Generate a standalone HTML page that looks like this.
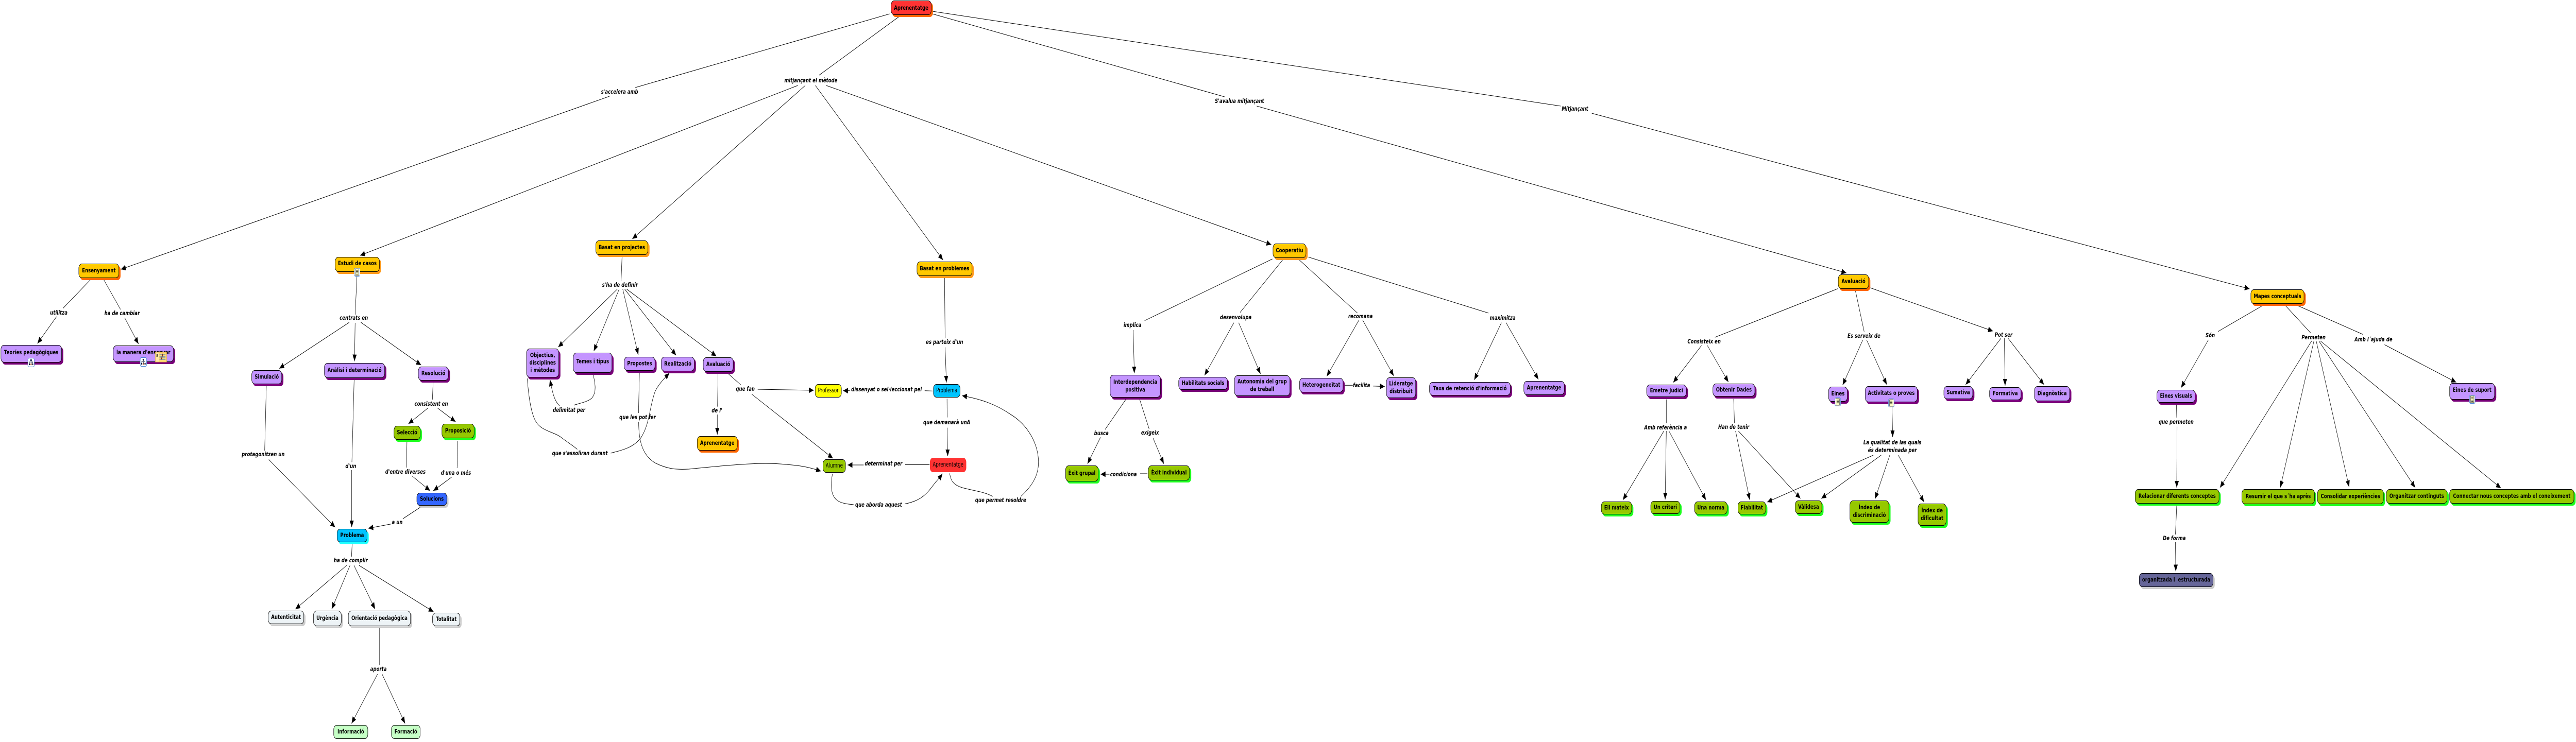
<!DOCTYPE html>
<html lang="ca"><head><meta charset="utf-8"><title>Aprenentatge</title>
<style>
html,body{margin:0;padding:0;width:100%;height:100%;overflow:hidden;background:#fff}
#r{position:absolute;left:0;top:0;width:100vw;height:100vh;display:block;background:#fff}
#r text{font-family:"DejaVu Sans","Liberation Sans",sans-serif;font-size:11.8px;font-weight:bold;text-anchor:middle;fill:#000;stroke:none;white-space:pre}
#r .l text,#r text.i{font-style:italic}
#r text.t{font-weight:normal;font-size:12px}
.f{stroke:#000;stroke-width:1}
.s{stroke:none}
.o .f{fill:#ffc800}.o .s{fill:#ff6600}
.y .f{fill:#ffc800}.y .s{fill:#ff9a1a}
.p .f{fill:#c495ff}.p .s{fill:#780078}
.g .f{fill:#96c800}.g .s{fill:#1eff1e}
.w .f{fill:#edf3f6}.w .s{fill:#ccc}
.b .f{fill:#00c3ff}.b .s{fill:#1effff}
.u .f{fill:#3366ff}.u .s{fill:#ccc}
.v .f{fill:#666699}.v .s{fill:#ccc}
.m .f{fill:#c6ffc6}.m .s{fill:none}
.r .f{fill:#ff3333}.r .s{fill:#ff6600}
</style></head><body>
<svg id="r" xmlns="http://www.w3.org/2000/svg" viewBox="0 0 6881 1441" preserveAspectRatio="none">
<defs>
<marker id="a" markerUnits="userSpaceOnUse" markerWidth="14" markerHeight="12" refX="13" refY="5.5" orient="auto"><path d="M0 0L13 5.5L0 11z" fill="#000" stroke="none"/></marker>
<g id="h"><rect x=".5" y=".5" width="17" height="17" rx="3" fill="#fff" stroke="#4a86d8"/><path d="M9 4V7M4.5 11V8H13.5V11M9 8V11" fill="none" stroke="#124"/><rect x="7" y="3" width="4" height="3" fill="#124"/><rect x="3" y="11" width="3" height="3" fill="#124"/><rect x="7.5" y="11" width="3" height="3" fill="#942"/><rect x="12" y="11" width="3" height="3" fill="#124"/></g>
<g id="d"><rect x=".5" y=".5" width="15" height="16" rx="3" fill="#fff" stroke="#4a86d8"/><rect x="3.5" y="2" width="9" height="13" fill="#ffffc8" stroke="#000" stroke-width=".7"/><path d="M5 5H11M5 7.5H11M5 10H11M5 12.5H11" stroke="#000" stroke-width=".8"/></g>
</defs>

<g fill="none" stroke="#000" stroke-width="1">
<path d="M2376 27L1697 170"/><path d="M2402 32L2188 146"/><path d="M2491 27L3271 188"/><path d="M2491 22L4169 206"/>
<path d="M242 543L168 599"/><path d="M277 543L322 601"/>
<path d="M953.6 535L948.6 611"/><path d="M711.4 749L707 875"/><path d="M946 736L940 897.5"/><path d="M1157 742L1155 776"/><path d="M1087 857L1086 908"/><path d="M1223 856L1221 909"/><path d="M1123 985L1076 1007.5"/><path d="M940.6 1057L939 1081"/><path d="M1014 1219L1014 1292"/>
<path d="M1661.6 499L1659 546"/><path d="M1584.4 727C1590 745 1594 762 1581 773C1570 781 1542 784 1533 787"/><path d="M1408.4 735C1412 770 1418 800 1430 817C1445 838 1480 838 1500 850C1518 860 1530 865 1542 872.6"/><path d="M1708 723.4L1705.6 802"/><path d="M1918 725L1916.7 789.6"/><path d="M1944 725L1979 747.5"/>
<path d="M2523 540L2524.6 657"/><path d="M2491.5 759.4L2470 758.7"/><path d="M2529.7 774.5L2530 810.6"/><path d="M2483 902.5L2418 902.5"/><path d="M2223.6 920C2218 945 2220 962 2235 971C2247 978 2265 979 2280 980"/><path d="M2536.7 919.3C2540 935 2548 942 2570 947C2600 953 2630 955 2651.5 964"/>
<path d="M3398.7 503L3057.5 622.7"/><path d="M3426 505L3312.6 606.7"/><path d="M3471 505L3626 608"/><path d="M3495 499.3L3976 608"/><path d="M3591.6 748.3L3613.4 748.3"/><path d="M3008 775L2952 834"/><path d="M3044 775L3069.5 833"/><path d="M3065 920L3045.6 920"/>
<path d="M4909 560.7L4581 655"/><path d="M4956 564L4979.5 644"/><path d="M4451 775.7L4451 822"/><path d="M4631 774.7L4633 822"/>
<path d="M6043.6 593.6L5924.7 643.8"/><path d="M6105 593.6L6172 646.4"/><path d="M6138 593.6L6312 649.5"/><path d="M5813.7 785L5814.5 811"/><path d="M5814.5 981.7L5811 1038"/>
</g>
<g fill="none" stroke="#000" stroke-width="1" marker-end="url(#a)">
<path d="M1628 187L323 523"/><path d="M2131 166L962 496"/><path d="M2151 166L1689 464"/><path d="M2178 166L2519 505"/><path d="M2207 166L3396 475"/><path d="M3357 206L4932 530"/><path d="M4252 220L6009 561"/>
<path d="M151 615L100 667"/><path d="M333 617L370 668"/>
<path d="M933 626L746 715.5"/><path d="M948.6 627L947 701.6"/><path d="M964 626L1125 709"/><path d="M718 892.5L895.5 1024"/><path d="M939.5 913L939.5 1024"/><path d="M1143 792.6L1091 823"/><path d="M1169 792.6L1217 819"/><path d="M1100 924L1149 953"/><path d="M1206.5 926.6L1157.5 953"/><path d="M1044 1017.7L984 1026"/><path d="M926 1098L789 1183"/><path d="M935 1098L886 1183"/><path d="M945.5 1098L1002 1183"/><path d="M959 1098L1158 1188"/><path d="M1008.5 1309L939 1405"/><path d="M1020.5 1309L1082 1405"/>
<path d="M1649 561.5L1491 674"/><path d="M1654 561.5L1586 682"/><path d="M1663.5 561.5L1705 689"/><path d="M1668.6 561.5L1806 690"/><path d="M1674 561.5L1913.5 691.6"/>
<path d="M1494.5 788C1480 778 1475 760 1469 737"/><path d="M1631.6 880C1650 876 1690 872 1712 850C1735 825 1735 790 1750 760C1760 745 1775 735 1788 724.5"/>
<path d="M1706 819C1706 860 1718 885 1750 899C1785 912 1810 912 1840 911C1880 908 1920 905 1960 903C2010 900 2060 899 2100 902C2140 904 2165 908 2193 915"/>
<path d="M1916 805L1916 844"/><path d="M2024 756L2173.7 758"/><path d="M2008 765.5L2225 890"/>
<path d="M2524.6 674.5L2528 743"/><path d="M2270 758.7L2252 758.7"/><path d="M2530 830.6L2531.6 886"/><path d="M2307 903L2264 903"/><path d="M2417 978.6C2450 974 2470 965 2490 945C2500 935 2510 928 2517.6 920"/><path d="M2727 964C2755 945 2775 925 2774 895C2772 860 2745 825 2700 805C2660 785 2620 775 2570 768.5"/>
<path d="M3027 641L3030 725"/><path d="M3296 626.7L3217.5 729"/><path d="M3308.8 626.7L3367 726"/><path d="M3630 621.7L3544 730.7"/><path d="M3640 621.7L3723 730"/><path d="M3668 749.7L3699 750.7"/><path d="M4010.6 626.7L3938 737.7"/><path d="M4023 626.7L4109.4 736.7"/><path d="M2939.6 849.3L2905 900.7"/><path d="M3080 850.7L3108.8 900.7"/><path d="M2963.5 921L2940 921"/>
<path d="M4545 671L4469.5 742.7"/><path d="M4560.7 671L4617 742"/><path d="M4976 660L4922 748"/><path d="M4986 660L5040 747"/><path d="M4996 559L5323.6 643"/><path d="M5345 657L5250.6 747"/><path d="M5354 657L5356 749"/><path d="M5364 657L5460 747"/><path d="M4444.6 837L4335 971"/><path d="M4451 837L4448 970"/><path d="M4458 837L4557 971"/><path d="M4636 837L4674 971"/><path d="M4643.6 837L4809.5 968"/><path d="M5054 790.7L5055.7 849"/><path d="M5004 884L4720.7 975"/><path d="M5025 884L4865 968"/><path d="M5048 884L5008.5 969"/><path d="M5070.7 884L5139.5 975"/>
<path d="M5899 660L5826 753"/><path d="M6175 662L5930 947"/><path d="M6181 662L6091 947"/><path d="M6187 662L6275 946"/><path d="M6194 662L6451.5 947"/><path d="M6198 662L6680.6 948"/><path d="M6369.6 669.4L6561 742.5"/><path d="M5815.4 828.6L5814.5 947"/><path d="M5811 1053L5812 1109.5"/>
</g>

<g class="r"><rect class="s" x="2384" y="5" width="108" height="28" rx="8"/><rect class="f" x="2380.5" y="1.5" width="107" height="27" rx="8"/><text x="2434" y="19">Aprenentatge</text></g>
<g class="o"><rect class="s" x="214" y="516" width="108" height="28" rx="8"/><rect class="f" x="210.5" y="512.5" width="107" height="27" rx="8"/><text x="264" y="529">Ensenyament</text></g>
<g class="p"><rect class="s" x="6" y="674" width="163" height="34" rx="8"/><rect class="f" x="2.5" y="670.5" width="162" height="33" rx="8"/><text x="83.5" y="688">Teoríes pedagògiques</text></g>
<g class="p"><rect class="s" x="306" y="675" width="162" height="32" rx="8"/><rect class="f" x="302.5" y="671.5" width="161" height="31" rx="8"/><text x="383" y="688">la manera d'ensenyar</text></g>
<g class="y"><rect class="s" x="899" y="503" width="119" height="29" rx="8"/><rect class="f" x="895.5" y="499.5" width="118" height="28" rx="8"/><text x="954.5" y="515">Estudi de casos</text></g>
<g class="p"><rect class="s" x="676" y="723" width="81" height="27" rx="8"/><rect class="f" x="672.5" y="719.5" width="80" height="26" rx="8"/><text x="712.5" y="735.5">Simulació</text></g>
<g class="p"><rect class="s" x="870" y="709" width="162" height="29" rx="8"/><rect class="f" x="866.5" y="705.5" width="161" height="28" rx="8"/><text x="947" y="722.5">Anàlisi i determinació</text></g>
<g class="p"><rect class="s" x="1121" y="716" width="81" height="27" rx="8"/><rect class="f" x="1117.5" y="712.5" width="80" height="26" rx="8"/><text x="1157.5" y="728.5">Resolució</text></g>
<g class="g"><rect class="s" x="1056" y="831" width="71" height="27" rx="8"/><rect class="f" x="1052.5" y="827.5" width="70" height="26" rx="8"/><text x="1087.5" y="843.5">Selecció</text></g>
<g class="g"><rect class="s" x="1184" y="827" width="87" height="28" rx="8"/><rect class="f" x="1180.5" y="823.5" width="86" height="27" rx="8"/><text x="1223.5" y="840">Proposició</text></g>
<g class="u"><rect class="s" x="1117" y="961" width="81" height="25" rx="8"/><rect class="f" x="1113.5" y="957.5" width="80" height="24" rx="8"/><text x="1153.5" y="972.5">Solucions</text></g>
<g class="b"><rect class="s" x="904" y="1031" width="81" height="26" rx="8"/><rect class="f" x="900.5" y="1027.5" width="80" height="25" rx="8"/><text x="940.5" y="1043">Problema</text></g>
<g class="w"><rect class="s" x="720" y="1190" width="96" height="26" rx="8"/><rect class="f" x="716.5" y="1186.5" width="95" height="25" rx="8"/><text x="764" y="1202">Autenticitat</text></g>
<g class="w"><rect class="s" x="841" y="1190" width="75" height="30" rx="8"/><rect class="f" x="837.5" y="1186.5" width="74" height="29" rx="8"/><text x="874.5" y="1204">Urgència</text></g>
<g class="w"><rect class="s" x="934" y="1190" width="167" height="30" rx="8"/><rect class="f" x="930.5" y="1186.5" width="166" height="29" rx="8"/><text x="1013.5" y="1204">Orientació pedagògica</text></g>
<g class="w"><rect class="s" x="1159" y="1194" width="74" height="26" rx="8"/><rect class="f" x="1155.5" y="1190.5" width="73" height="25" rx="8"/><text x="1192" y="1206">Totalitat</text></g>
<g class="m"><rect class="f" x="891.5" y="1408.5" width="91" height="26" rx="8"/><text x="937" y="1424.5">Informació</text></g>
<g class="m"><rect class="f" x="1045.5" y="1408.5" width="77" height="26" rx="8"/><text x="1084" y="1424.5">Formació</text></g>

<g class="y"><rect class="s" x="1595" y="471" width="140" height="28" rx="8"/><rect class="f" x="1591.5" y="467.5" width="139" height="27" rx="8"/><text x="1661" y="484">Basat en projectes</text></g>
<g class="p"><rect class="s" x="1410" y="681" width="87" height="56" rx="8"/><rect class="f" x="1406.5" y="677.5" width="86" height="55" rx="8"/><text x="1449.5" y="693.5">Objectius,</text><text x="1449.5" y="708">disciplines</text><text x="1449.5" y="722.7">i mètodes</text></g>
<g class="p"><rect class="s" x="1535" y="689" width="104" height="39" rx="8"/><rect class="f" x="1531.5" y="685.5" width="103" height="38" rx="8"/><text x="1583" y="705.5">Temes i tipus</text></g>
<g class="p"><rect class="s" x="1671" y="697" width="83" height="27" rx="8"/><rect class="f" x="1667.5" y="693.5" width="82" height="26" rx="8"/><text x="1708.5" y="709.5">Propostes</text></g>
<g class="p"><rect class="s" x="1770" y="697" width="89" height="28" rx="8"/><rect class="f" x="1766.5" y="693.5" width="88" height="27" rx="8"/><text x="1810.5" y="710">Realització</text></g>
<g class="p"><rect class="s" x="1882" y="698" width="81" height="28" rx="8"/><rect class="f" x="1878.5" y="694.5" width="80" height="27" rx="8"/><text x="1918.5" y="711">Avaluació</text></g>
<g class="o"><rect class="s" x="1866" y="851" width="108" height="28" rx="8"/><rect class="f" x="1862.5" y="847.5" width="107" height="27" rx="8"/><text x="1916" y="864">Aprenentatge</text></g>
<rect class="f" x="2177.5" y="746.5" width="70" height="25" rx="8" fill="#ffff00"/><text class="t" x="2212.5" y="762">Professor</text>
<rect class="f" x="2198.5" y="892.5" width="60" height="25" rx="8" fill="#96c800"/><text class="t" x="2228.5" y="908">Alumne</text>

<g class="y"><rect class="s" x="2453" y="512" width="148" height="28" rx="8"/><rect class="f" x="2449.5" y="508.5" width="147" height="27" rx="8"/><text x="2523" y="525">Basat en problemes</text></g>
<rect class="f" x="2493.5" y="746.5" width="71" height="25" rx="8" fill="#00c3ff"/><text class="t" x="2529" y="762">Problema</text>
<rect x="2484.5" y="889.5" width="96" height="27" rx="8" fill="#ff3333" stroke="#f22"/><text class="t" x="2532.5" y="906">Aprenentatge</text>

<g class="y"><rect class="s" x="3404" y="477" width="89" height="28" rx="8"/><rect class="f" x="3400.5" y="473.5" width="88" height="27" rx="8"/><text x="3444.5" y="490">Cooperatiu</text></g>
<g class="p"><rect class="s" x="2969" y="732" width="135" height="44" rx="8"/><rect class="f" x="2965.5" y="728.5" width="134" height="43" rx="8"/><text x="3032.5" y="745.7">Interdependencia</text><text x="3032.5" y="760.3">positiva</text></g>
<g class="p"><rect class="s" x="3152" y="736" width="131" height="25" rx="8"/><rect class="f" x="3148.5" y="732.5" width="130" height="24" rx="8"/><text x="3213.5" y="747.5">Habilitats socials</text></g>
<g class="p"><rect class="s" x="3301" y="733" width="149" height="40" rx="8"/><rect class="f" x="3297.5" y="729.5" width="148" height="39" rx="8"/><text x="3371.5" y="744.7">Autonomia del grup</text><text x="3371.5" y="759.3">de treball</text></g>
<g class="p"><rect class="s" x="3475" y="738" width="117" height="28" rx="8"/><rect class="f" x="3471.5" y="734.5" width="116" height="27" rx="8"/><text x="3529.5" y="751">Heterogeneïtat</text></g>
<g class="p"><rect class="s" x="3707" y="737" width="79" height="40" rx="8"/><rect class="f" x="3703.5" y="733.5" width="78" height="39" rx="8"/><text x="3742.5" y="748.7">Lideratge</text><text x="3742.5" y="763.3">distribuit</text></g>
<g class="p"><rect class="s" x="3822" y="746" width="217" height="26" rx="8"/><rect class="f" x="3818.5" y="742.5" width="216" height="25" rx="8"/><text x="3926.5" y="758">Taxa de retenció d'informació</text></g>
<g class="p"><rect class="s" x="4074" y="744" width="109" height="27" rx="8"/><rect class="f" x="4070.5" y="740.5" width="108" height="26" rx="8"/><text x="4124.5" y="756.5">Aprenentatge</text></g>
<g class="g"><rect class="s" x="2850" y="908" width="88" height="31" rx="8"/><rect class="f" x="2846.5" y="904.5" width="87" height="30" rx="8"/><text x="2890" y="922.5">Èxit grupal</text></g>
<g class="g"><rect class="s" x="3071" y="908" width="111" height="29" rx="8"/><rect class="f" x="3067.5" y="904.5" width="110" height="28" rx="8"/><text x="3122.5" y="921.5">Èxit individual</text></g>

<g class="o"><rect class="s" x="4914" y="537" width="82" height="28" rx="8"/><rect class="f" x="4910.5" y="533.5" width="81" height="27" rx="8"/><text x="4951" y="550">Avaluació</text></g>
<g class="p"><rect class="s" x="4402" y="751" width="107" height="24" rx="8"/><rect class="f" x="4398.5" y="747.5" width="106" height="23" rx="8"/><text x="4451.5" y="762">Emetre Judici</text></g>
<g class="p"><rect class="s" x="4579" y="749" width="113" height="25" rx="8"/><rect class="f" x="4575.5" y="745.5" width="112" height="24" rx="8"/><text x="4631.5" y="760.5">Obtenir Dades</text></g>
<g class="p"><rect class="s" x="4888" y="755" width="51" height="29" rx="8"/><rect class="f" x="4884.5" y="751.5" width="50" height="28" rx="8"/><text x="4909.5" y="768">Eines</text></g>
<g class="p"><rect class="s" x="4986" y="754" width="140" height="31" rx="8"/><rect class="f" x="4982.5" y="750.5" width="139" height="30" rx="8"/><text x="5052" y="767">Activitats o proves</text></g>
<g class="p"><rect class="s" x="5196" y="754" width="78" height="25" rx="8"/><rect class="f" x="5192.5" y="750.5" width="77" height="24" rx="8"/><text x="5231" y="765.5">Sumativa</text></g>
<g class="p"><rect class="s" x="5318" y="756" width="85" height="25" rx="8"/><rect class="f" x="5314.5" y="752.5" width="84" height="24" rx="8"/><text x="5356.5" y="767.5">Formativa</text></g>
<g class="p"><rect class="s" x="5438" y="754" width="95" height="29" rx="8"/><rect class="f" x="5434.5" y="750.5" width="94" height="28" rx="8"/><text x="5481.5" y="767.5">Diagnòstica</text></g>
<g class="g"><rect class="s" x="4281" y="978" width="82" height="25" rx="8"/><rect class="f" x="4277.5" y="974.5" width="81" height="24" rx="8"/><text x="4318" y="989.5">Ell mateix</text></g>
<g class="g"><rect class="s" x="4413" y="977" width="79" height="25" rx="8"/><rect class="f" x="4409.5" y="973.5" width="78" height="24" rx="8"/><text x="4448.5" y="988.5">Un criteri</text></g>
<g class="g"><rect class="s" x="4530" y="978" width="88" height="25" rx="8"/><rect class="f" x="4526.5" y="974.5" width="87" height="24" rx="8"/><text x="4570" y="989.5">Una norma</text></g>
<g class="g"><rect class="s" x="4646" y="978" width="75" height="25" rx="8"/><rect class="f" x="4642.5" y="974.5" width="74" height="24" rx="8"/><text x="4679.5" y="989.5">Fiabilitat</text></g>
<g class="g"><rect class="s" x="4799" y="976" width="72" height="26" rx="8"/><rect class="f" x="4795.5" y="972.5" width="71" height="25" rx="8"/><text x="4831" y="988">Vàlidesa</text></g>
<g class="g"><rect class="s" x="4945" y="976" width="105" height="43" rx="8"/><rect class="f" x="4941.5" y="972.5" width="104" height="42" rx="8"/><text x="4993.5" y="989.2">Índex de</text><text x="4993.5" y="1003.8">discriminació</text></g>
<g class="g"><rect class="s" x="5127" y="982" width="76" height="43" rx="8"/><rect class="f" x="5123.5" y="978.5" width="75" height="42" rx="8"/><text x="5161" y="995.2">Índex de</text><text x="5161" y="1009.8">dificultat</text></g>

<g class="o"><rect class="s" x="6016" y="566" width="143" height="28" rx="8"/><rect class="f" x="6012.5" y="562.5" width="142" height="27" rx="8"/><text x="6083.5" y="579">Mapes conceptuals</text></g>
<g class="p"><rect class="s" x="5765" y="761" width="103" height="25" rx="8"/><rect class="f" x="5761.5" y="757.5" width="102" height="24" rx="8"/><text x="5812.5" y="772.5">Eines visuals</text></g>
<g class="p"><rect class="s" x="6547" y="748" width="121" height="32" rx="8"/><rect class="f" x="6543.5" y="744.5" width="120" height="31" rx="8"/><text x="6603.5" y="761">Eines de suport</text></g>
<g class="g"><rect class="s" x="5707" y="954" width="225" height="28" rx="8"/><rect class="f" x="5703.5" y="950.5" width="224" height="27" rx="8"/><text x="5815.5" y="967">Relacionar diferents conceptes</text></g>
<g class="g"><rect class="s" x="5992" y="954" width="195" height="29" rx="8"/><rect class="f" x="5988.5" y="950.5" width="194" height="28" rx="8"/><text x="6085.5" y="967.5">Resumir el que s´ha après</text></g>
<g class="g"><rect class="s" x="6194" y="954" width="177" height="29" rx="8"/><rect class="f" x="6190.5" y="950.5" width="176" height="28" rx="8"/><text x="6278.5" y="967.5">Consolidar experiències</text></g>
<g class="g"><rect class="s" x="6378" y="954" width="163" height="28" rx="8"/><rect class="f" x="6374.5" y="950.5" width="162" height="27" rx="8"/><text x="6455.5" y="967">Organitzar continguts</text></g>
<g class="g"><rect class="s" x="6547" y="954" width="333" height="28" rx="8"/><rect class="f" x="6543.5" y="950.5" width="332" height="27" rx="8"/><text x="6709.5" y="967">Connectar nous conceptes amb el coneixement</text></g>
<g class="v"><rect class="s" x="5718" y="1117" width="198" height="27" rx="8"/><rect class="f" x="5714.5" y="1113.5" width="197" height="26" rx="8"/><text x="5813" y="1129.5">organitzada i  estructurada</text></g>

<g class="l">
<text x="1655" y="182">s'accelera amb</text>
<text x="2166" y="160">mitjançant el mètode</text>
<text x="3311" y="200">S'avalua mitjançant</text>
<text x="4207" y="215">Mitjançant</text>
<text x="157" y="611">utilitza</text>
<text x="326" y="612">ha de cambiar</text>
<text x="945" y="621">centrats en</text>
<text x="1152" y="788">consistent en</text>
<text x="1083" y="920">d'entre diverses</text>
<text x="1218" y="922">d'una o més</text>
<text x="1061" y="1018">a un</text>
<text x="937" y="909">d'un</text>
<text x="703" y="886">protagonitzen un</text>
<text x="937" y="1092">ha de complir</text>
<text x="1011" y="1303">aporta</text>
<text x="1656" y="557">s'ha de definir</text>
<text x="1520" y="800">delimitat per</text>
<text x="1703" y="814">que les pot fer</text>
<text x="1549" y="884">que s'assoliran durant</text>
<text x="1915" y="801">de l'</text>
<text x="1991" y="759">que fan</text>
<text x="2523" y="668">es parteix d'un</text>
<text x="2368" y="760">dissenyat o sel·leccionat pel</text>
<text x="2529" y="824">que demanarà unA</text>
<text x="2360" y="904">determinat per</text>
<text x="2347" y="984">que aborda aquest</text>
<text x="2673" y="975">que permet resoldre</text>
<text x="3025" y="635">implica</text>
<text x="3301" y="620">desenvolupa</text>
<text x="3634" y="618">recomana</text>
<text x="4014" y="621">maximitza</text>
<text x="3637" y="752">facilita</text>
<text x="2942" y="845">busca</text>
<text x="3072" y="844">exigeix</text>
<text x="3001" y="925">condiciona</text>
<text x="4552" y="667">Consisteix en</text>
<text x="4979" y="656">Es serveix de</text>
<text x="5352" y="654">Pot ser</text>
<text x="4449" y="834">Amb referència a</text>
<text x="4631" y="833">Han de tenir</text>
<text x="5055" y="863">La qualitat de las quals</text>
<text x="5055" y="878">és determinada per</text>
<text x="5904" y="655">Són</text>
<text x="6180" y="659">Permeten</text>
<text x="6340" y="663">Amb l´ajuda de</text>
<text x="5813" y="823">que permeten</text>
<text x="5808" y="1049">De forma</text>
</g>

<use href="#h" x="74" y="695"/><use href="#h" x="374" y="694"/>
<rect x="415" y="684" width="30" height="19" fill="#ffdc78" stroke="#e8b040"/><rect x="415.5" y="684.5" width="9" height="18" fill="#ffe9a8"/><text x="420" y="693" style="font-size:9px;font-weight:normal">a</text><path d="M426 689H442M426 692H442M426 695H442M426 698H442" stroke="#2a70c8" fill="none"/><path d="M431 698L435 687" stroke="#722" stroke-width="2" fill="none"/>
<use href="#d" x="946" y="520"/><use href="#d" x="4901" y="772"/><use href="#d" x="5044" y="774"/><use href="#d" x="6596" y="767"/>
</svg>
</body></html>
